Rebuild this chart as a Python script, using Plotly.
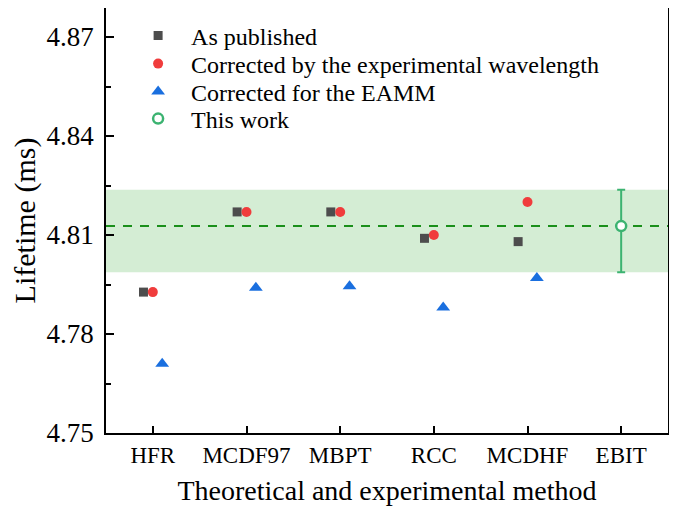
import plotly.graph_objects as go

methods = ["HFR", "MCDF97", "MBPT", "RCC", "MCDHF", "EBIT"]
as_published = [4.7927, 4.817, 4.817, 4.809, 4.808]
corrected_wavelength = [4.7927, 4.817, 4.817, 4.810, 4.820]
corrected_eamm = [4.771, 4.794, 4.7945, 4.788, 4.797]
this_work = [4.8127]
this_work_err_plus = [0.0110]
this_work_err_minus = [0.0140]

FONT = "'Liberation Serif', 'Times New Roman', 'DejaVu Serif', serif"
idx = list(range(len(methods)))
theory_idx = idx[:5]

fig = go.Figure()
fig.add_trace(go.Scatter(
    x=[i - 0.1 for i in theory_idx], y=as_published, mode="markers",
    name="As published", legend="legend",
    marker=dict(symbol="square", size=9, color="#4d4d4d"),
))
fig.add_trace(go.Scatter(
    x=theory_idx, y=corrected_wavelength, mode="markers",
    name="Corrected by the experimental wavelength", legend="legend2",
    marker=dict(symbol="circle", size=10, color="#f03c3c"),
))
fig.add_trace(go.Scatter(
    x=[i + 0.1 for i in theory_idx], y=corrected_eamm, mode="markers",
    name="Corrected for the EAMM", legend="legend3",
    marker=dict(symbol="triangle-up", size=12, color="#1a6fdf"),
))
fig.add_trace(go.Scatter(
    x=[idx[5]], y=this_work, mode="markers",
    name="This work", legend="legend4",
    marker=dict(symbol="circle", size=10, color="white",
                line=dict(width=2.5, color="#3cb371")),
    error_y=dict(type="data", symmetric=False, array=this_work_err_plus,
                 arrayminus=this_work_err_minus, color="#3cb371",
                 thickness=2, width=4),
))

band_lo = this_work[0] - this_work_err_minus[0]
band_hi = this_work[0] + this_work_err_plus[0]
fig.add_shape(type="rect", xref="paper", x0=0, x1=1, y0=band_lo, y1=band_hi,
              fillcolor="rgba(160,215,160,0.45)", line=dict(width=0), layer="below")
fig.add_shape(type="line", xref="paper", x0=0, x1=1, y0=this_work[0], y1=this_work[0],
              line=dict(color="#1a8f1a", width=2, dash="9px,8px"), layer="below")

leg_common = dict(x=0.034, xanchor="left", yanchor="middle",
                  bgcolor="rgba(0,0,0,0)", font=dict(family=FONT, size=24),
                  itemwidth=56)
# plot area height 425 px (page y 8..433)
def py(ypix):
    return (433 - ypix) / 425

fig.update_layout(
    width=669, height=498,
    margin=dict(l=98, r=9, t=0, b=73),
    plot_bgcolor="white", paper_bgcolor="white",
    font=dict(family=FONT, size=22, color="black"),
    showlegend=True,
    legend=dict(y=py(36), **leg_common),
    legend2=dict(y=py(64), **leg_common),
    legend3=dict(y=py(92), **leg_common),
    legend4=dict(y=py(119), **leg_common),
)
fig.update_xaxes(
    range=[-0.5, 5.5], tickvals=idx, ticktext=methods, automargin=False,
    ticks="inside", ticklen=7, tickwidth=1.5, tickcolor="black",
    showline=True, linecolor="black", linewidth=1.8, mirror=True,
    showgrid=False, zeroline=False,
    tickfont=dict(family=FONT, size=23),
    title=dict(text="Theoretical and experimental method", font=dict(family=FONT, size=28)),
)
fig.update_yaxes(
    range=[4.75, 4.8788], tickvals=[4.75, 4.78, 4.81, 4.84, 4.87],
    ticktext=["4.75", "4.78", "4.81", "4.84", "4.87"], automargin=False,
    ticks="inside", ticklen=8, tickwidth=1.5, tickcolor="black",
    ticklabelstandoff=5,
    minor=dict(tickvals=[4.765, 4.795, 4.825, 4.855], ticks="inside", ticklen=5,
               tickwidth=1.5, tickcolor="black", showgrid=False),
    showline=True, linecolor="black", linewidth=1.8, mirror=True,
    showgrid=False, zeroline=False,
    tickfont=dict(family=FONT, size=27),
    title=dict(text="Lifetime (ms)", font=dict(family=FONT, size=30)),
)

fig.write_html("out.html")
